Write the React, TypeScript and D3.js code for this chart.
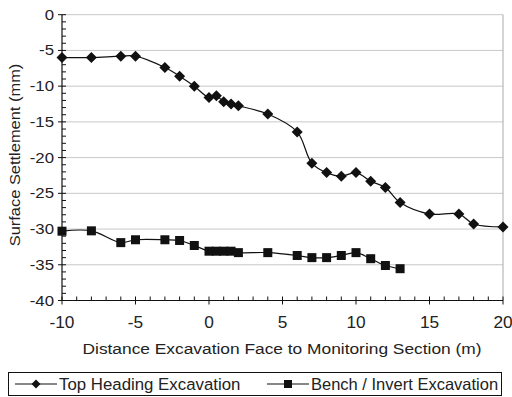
import React from "react";
import * as d3 from "d3";

const topX = [-10, -8, -6, -5, -3, -2, -1, 0, 0.5, 1, 1.5, 2, 4, 6, 7, 8, 9, 10, 11, 12, 13, 15, 17, 18, 20];
const topY = [-6.0, -6.0, -5.8, -5.8, -7.4, -8.6, -10.0, -11.6, -11.35, -12.2, -12.5, -12.75, -13.9, -16.4, -20.8, -22.1, -22.6, -22.1, -23.3, -24.2, -26.3, -27.9, -27.9, -29.3, -29.7];
const benchX = [-10, -8, -6, -5, -3, -2, -1, 0, 0.5, 1, 1.5, 2, 4, 6, 7, 8, 9, 10, 11, 12, 13];
const benchY = [-30.3, -30.25, -31.9, -31.5, -31.5, -31.6, -32.3, -33.1, -33.1, -33.1, -33.1, -33.3, -33.3, -33.7, -34.0, -34.0, -33.7, -33.3, -34.15, -35.1, -35.55];
const xTicks = [-10, -5, 0, 5, 10, 15, 20];
const yTicks = [0, -5, -10, -15, -20, -25, -30, -35, -40];
const xTitle = "Distance Excavation Face to Monitoring Section (m)";
const yTitle = "Surface Settlement (mm)";
const series1 = "Top Heading Excavation";
const series2 = "Bench / Invert Excavation";

const FONT = "Liberation Sans, Arial, Helvetica, sans-serif";

function T({ x, y, size, sx = 1, anchor = "start", rotate = 0, children }: any) {
  return (
    <text
      transform={`translate(${x},${y}) rotate(${rotate}) scale(${sx},1)`}
      fontSize={size}
      fontFamily={FONT}
      textAnchor={anchor}
      fill="#222"
    >
      {children}
    </text>
  );
}

function diamond(cx: number, cy: number, r: number) {
  return `M${cx},${cy - r}L${cx + r},${cy}L${cx},${cy + r}L${cx - r},${cy}Z`;
}

export default function App() {
  const W = 512, H = 397;
  const x = d3.scaleLinear().domain([-10, 20]).range([62, 503]);
  const y = d3.scaleLinear().domain([-40, 0]).range([300.5, 14.7]);
  const line = d3
    .line<[number, number]>()
    .x((d) => x(d[0]))
    .y((d) => y(d[1]))
    .curve(d3.curveCatmullRom.alpha(0.5));
  const top: [number, number][] = topX.map((v, i) => [v, topY[i]]);
  const bench: [number, number][] = benchX.map((v, i) => [v, benchY[i]]);
  const minorX = d3.range(-10, 21, 1);
  const minorY = d3.range(-40, 1, 1);
  const ink = "#111";

  return (
    <svg width={W} height={H} style={{ position: "absolute", left: 0, top: 0, background: "#fff" }}>
      {/* gridlines */}
      {yTicks.filter((t) => t !== -40).map((t) => (
        <line key={"g" + t} x1={x(-10)} x2={x(20)} y1={y(t)} y2={y(t)} stroke="#c8c8c8" strokeWidth={1} />
      ))}
      <line x1={x(20)} x2={x(20)} y1={y(0)} y2={y(-40)} stroke="#aaa" strokeWidth={1} />
      {/* axes */}
      <line x1={x(-10)} x2={x(-10)} y1={y(0)} y2={y(-40)} stroke={ink} strokeWidth={1.2} />
      <line x1={x(-10)} x2={x(20)} y1={y(-40)} y2={y(-40)} stroke={ink} strokeWidth={1.2} />
      {minorY.map((t) => {
        const major = t % 5 === 0;
        return (
          <line key={"ty" + t} x1={major ? x(-10) - 4 : x(-10)} x2={x(-10) + 4} y1={y(t)} y2={y(t)} stroke={ink} strokeWidth={1} />
        );
      })}
      {minorX.map((t) => {
        const major = t % 5 === 0;
        return (
          <line key={"tx" + t} x1={x(t)} x2={x(t)} y1={y(-40) - 4} y2={major ? y(-40) + 4 : y(-40)} stroke={ink} strokeWidth={1} />
        );
      })}
      {yTicks.map((t) => (
        <T key={"ly" + t} x={54} y={y(t) + 5} size={14} sx={1.2} anchor="end">{String(t)}</T>
      ))}
      {xTicks.map((t) => (
        <T key={"lx" + t} x={x(t)} y={328.3} size={16} sx={1.08} anchor="middle">{String(t)}</T>
      ))}
      <T x={282} y={354} size={15.5} sx={1.12} anchor="middle">{xTitle}</T>
      <T x={20} y={155} size={15.5} sx={1.06} anchor="middle" rotate={-90}>{yTitle}</T>

      {/* series */}
      <path d={line(top) || ""} fill="none" stroke={ink} strokeWidth={1.2} />
      <path d={line(bench) || ""} fill="none" stroke={ink} strokeWidth={1.2} />
      {top.map((d, i) => (
        <path key={"d" + i} d={diamond(x(d[0]), y(d[1]), 5.5)} fill={ink} />
      ))}
      {bench.map((d, i) => (
        <rect key={"s" + i} x={x(d[0]) - 4.5} y={y(d[1]) - 4.5} width={9} height={9} fill={ink} />
      ))}

      {/* legend */}
      <rect x={8.5} y={372.5} width={493} height={23} fill="#fff" stroke={ink} strokeWidth={1} />
      <line x1={15} x2={57} y1={384} y2={384} stroke={ink} strokeWidth={1.2} />
      <path d={diamond(36, 384, 4.5)} fill={ink} />
      <T x={59} y={390} size={16.5} sx={1.02}>{series1}</T>
      <line x1={267} x2={309} y1={384} y2={384} stroke={ink} strokeWidth={1.2} />
      <rect x={284} y={380} width={8} height={8} fill={ink} />
      <T x={311} y={390} size={16.5} sx={1.0}>{series2}</T>
    </svg>
  );
}
